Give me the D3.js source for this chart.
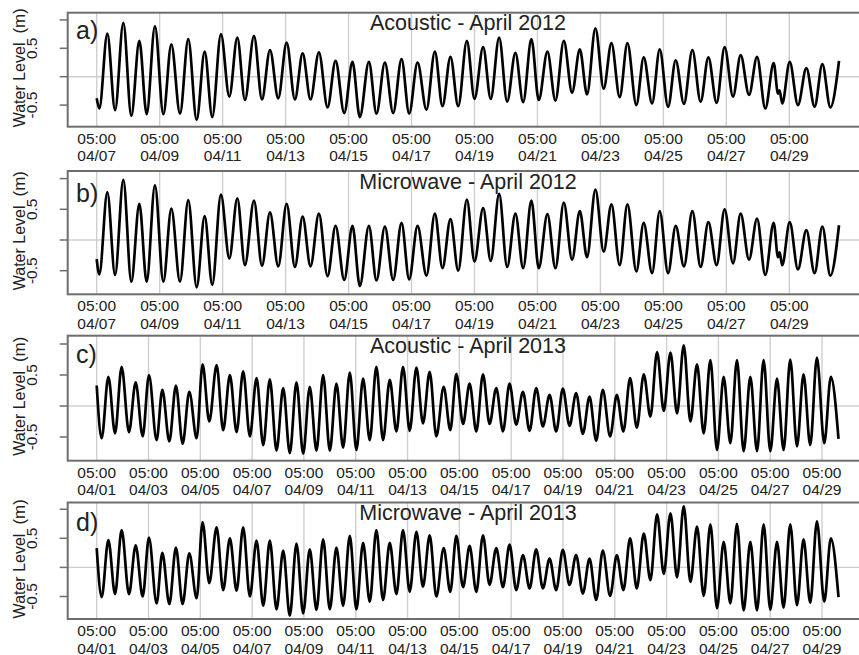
<!DOCTYPE html>
<html>
<head>
<meta charset="utf-8">
<script src="https://cdn.jsdelivr.net/npm/d3@7"></script>
<style>
  html, body { margin: 0; padding: 0; background: #fff; }
  svg { display: block; font-family: "Liberation Sans", Arial, sans-serif; }
</style>
</head>
<body>
<svg id="chart" width="859" height="655"></svg>
<script>
// Turning points of the water-level record (hours after 05:00 on the first day, metres)
const hours2012 = [0, 2.0, 8.1, 14.0, 20.3, 26.4, 32.5, 38.1, 44.4, 50.8,
  56.9, 63.5, 69.8, 76.2, 82.3, 88.1, 94.7, 101.1, 107.2, 113.0,
  119.9, 126.0, 132.1, 138.4, 144.8, 151.1, 157.0, 163.0, 169.4, 176.0,
  182.1, 188.7, 195.0, 200.6, 207.5, 213.3, 219.7, 226.0, 232.4, 238.2,
  244.6, 251.4, 257.8, 263.6, 269.7, 275.6, 282.2, 288.0, 294.6, 300.4,
  306.8, 312.9, 319.2, 325.1, 331.4, 337.0, 343.6, 349.7, 356.1, 362.4,
  368.3, 373.8, 380.2, 386.5, 392.4, 398.7, 404.6, 411.4, 417.0, 423.4,
  429.2, 435.6, 441.4, 447.7, 454.1, 460.4, 466.3, 472.6, 478.7, 485.1,
  490.9, 497.3, 503.4, 509.7, 516.1, 519.4, 520.6, 522.6, 528.3, 534.6,
  541.0, 547.3, 553.2, 559.3, 565.9];

const acoustic2012 = [-0.38, -0.56, 0.76, -0.59, 0.95, -0.69, 0.63, -0.66, 0.89, -0.66,
  0.57, -0.65, 0.66, -0.76, 0.44, -0.71, 0.75, -0.35, 0.69, -0.41,
  0.72, -0.40, 0.47, -0.38, 0.60, -0.40, 0.41, -0.40, 0.43, -0.54,
  0.28, -0.64, 0.26, -0.71, 0.26, -0.65, 0.25, -0.64, 0.31, -0.65,
  0.25, -0.58, 0.44, -0.52, 0.35, -0.52, 0.63, -0.39, 0.52, -0.39,
  0.69, -0.44, 0.42, -0.45, 0.66, -0.41, 0.44, -0.42, 0.63, -0.28,
  0.48, -0.31, 0.85, -0.21, 0.59, -0.36, 0.59, -0.50, 0.34, -0.47,
  0.48, -0.53, 0.29, -0.48, 0.47, -0.44, 0.34, -0.46, 0.52, -0.35,
  0.38, -0.32, 0.35, -0.56, 0.24, -0.30, -0.24, -0.47, 0.26, -0.50,
  0.15, -0.53, 0.22, -0.54, 0.28];

const microwave2012 = [-0.31, -0.56, 0.78, -0.57, 0.98, -0.68, 0.59, -0.68, 0.89, -0.68,
  0.51, -0.68, 0.65, -0.77, 0.39, -0.73, 0.74, -0.30, 0.68, -0.41,
  0.64, -0.42, 0.45, -0.43, 0.59, -0.44, 0.38, -0.43, 0.43, -0.59,
  0.23, -0.65, 0.23, -0.75, 0.23, -0.66, 0.22, -0.65, 0.28, -0.64,
  0.23, -0.58, 0.43, -0.46, 0.34, -0.50, 0.66, -0.35, 0.52, -0.34,
  0.75, -0.44, 0.43, -0.46, 0.64, -0.46, 0.42, -0.46, 0.61, -0.32,
  0.47, -0.28, 0.82, -0.19, 0.58, -0.41, 0.58, -0.51, 0.28, -0.54,
  0.47, -0.54, 0.23, -0.43, 0.47, -0.44, 0.29, -0.41, 0.50, -0.38,
  0.43, -0.32, 0.35, -0.57, 0.28, -0.28, -0.20, -0.41, 0.29, -0.48,
  0.16, -0.54, 0.22, -0.58, 0.24];

const hours2013 = [0, 4.6, 10.8, 17.0, 23.1, 29.9, 36.1, 42.6, 48.4, 55.5,
  60.8, 67.3, 73.4, 79.6, 85.8, 92.6, 98.1, 104.3, 111.1, 117.2,
  123.4, 129.6, 135.7, 141.9, 148.1, 154.3, 160.4, 166.6, 172.8, 178.9,
  185.1, 191.3, 197.4, 203.6, 209.8, 216.0, 222.1, 228.3, 234.5, 240.6,
  246.8, 253.0, 259.1, 265.3, 271.5, 277.7, 283.8, 290.0, 296.2, 302.3,
  308.5, 314.7, 321.5, 327.6, 333.2, 339.4, 345.5, 351.7, 357.9, 364.0,
  370.2, 376.4, 382.5, 388.7, 394.9, 401.1, 407.2, 413.4, 419.6, 425.7,
  431.9, 438.1, 444.2, 450.4, 456.6, 462.8, 468.9, 475.7, 481.9, 488.0,
  494.2, 500.4, 506.9, 513.0, 519.2, 525.4, 531.6, 537.7, 543.9, 550.1,
  556.2, 562.4, 568.6, 574.7, 580.9, 587.1, 593.2, 599.4, 605.6, 611.8,
  617.9, 624.1, 630.3, 636.4, 642.6, 648.8, 654.9, 661.1, 667.3, 674.1,
  680.2, 687.3];

const acoustic2013 = [0.33, -0.52, 0.47, -0.44, 0.63, -0.42, 0.38, -0.49, 0.50, -0.55,
  0.26, -0.57, 0.33, -0.61, 0.23, -0.52, 0.67, -0.25, 0.66, -0.39,
  0.50, -0.42, 0.56, -0.49, 0.45, -0.63, 0.43, -0.72, 0.29, -0.76,
  0.38, -0.77, 0.31, -0.72, 0.50, -0.72, 0.36, -0.67, 0.54, -0.71,
  0.44, -0.55, 0.63, -0.55, 0.42, -0.41, 0.63, -0.40, 0.62, -0.28,
  0.55, -0.49, 0.31, -0.39, 0.52, -0.29, 0.36, -0.41, 0.51, -0.29,
  0.29, -0.41, 0.36, -0.30, 0.23, -0.40, 0.29, -0.33, 0.18, -0.41,
  0.28, -0.32, 0.21, -0.45, 0.15, -0.56, 0.26, -0.49, 0.18, -0.41,
  0.45, -0.35, 0.51, -0.17, 0.87, -0.08, 0.86, -0.12, 0.98, -0.25,
  0.67, -0.44, 0.74, -0.71, 0.47, -0.60, 0.74, -0.73, 0.47, -0.73,
  0.74, -0.73, 0.44, -0.71, 0.75, -0.65, 0.51, -0.63, 0.78, -0.60,
  0.47, -0.53];

const microwave2013 = [0.33, -0.51, 0.47, -0.46, 0.64, -0.46, 0.38, -0.50, 0.51, -0.62,
  0.25, -0.63, 0.34, -0.63, 0.24, -0.53, 0.78, -0.27, 0.69, -0.39,
  0.50, -0.40, 0.69, -0.50, 0.46, -0.66, 0.46, -0.72, 0.29, -0.83,
  0.41, -0.79, 0.31, -0.73, 0.48, -0.72, 0.34, -0.66, 0.54, -0.72,
  0.42, -0.59, 0.64, -0.56, 0.42, -0.46, 0.64, -0.42, 0.61, -0.33,
  0.55, -0.50, 0.33, -0.42, 0.54, -0.34, 0.37, -0.42, 0.55, -0.30,
  0.33, -0.34, 0.39, -0.39, 0.21, -0.36, 0.31, -0.36, 0.15, -0.39,
  0.30, -0.30, 0.21, -0.45, 0.15, -0.56, 0.29, -0.49, 0.21, -0.39,
  0.50, -0.36, 0.58, -0.22, 0.91, -0.11, 0.93, -0.17, 1.05, -0.25,
  0.70, -0.49, 0.74, -0.70, 0.44, -0.62, 0.75, -0.74, 0.44, -0.74,
  0.74, -0.73, 0.44, -0.69, 0.74, -0.65, 0.48, -0.61, 0.79, -0.59,
  0.50, -0.51];

const panelLetters = ["a)", "b)", "c)", "d)"];
const panelTitles = ["Acoustic - April 2012", "Microwave - April 2012",
                     "Acoustic - April 2013", "Microwave - April 2013"];
const yTicks = [-0.5, 0, 0.5, 1];
const yTickLabels = [-0.5, 0.5];
const yAxisTitle = "Water Level";
const yAxisUnit = "(m)";
const tickEveryDays = 2;

const start2012 = Date.UTC(2012, 3, 7, 5);
const start2013 = Date.UTC(2013, 3, 1, 5);

// Panel layout
const panels = [
  { hours: hours2012, level: acoustic2012,  start: start2012, days: 22, xEnd: 789.3,
    top: 12.7,  bottom: 126.7, yRange: [105.1, 48.3], letterDy: 26.5 },
  { hours: hours2012, level: microwave2012, start: start2012, days: 22, xEnd: 789.3,
    top: 171,   bottom: 294.3, yRange: [270.7, 209.3], letterDy: 31 },
  { hours: hours2013, level: acoustic2013,  start: start2013, days: 28, xEnd: 822,
    top: 335.7, bottom: 460.7, yRange: [437.0, 375.0], letterDy: 27 },
  { hours: hours2013, level: microwave2013, start: start2013, days: 28, xEnd: 822,
    top: 502.5, bottom: 619,   yRange: [596.5, 538.3], letterDy: 28.5 }
];

const boxLeft = 67.7, boxRight = 872, x0 = 96.7;
const dayMs = 864e5, hourMs = 36e5;
const fmtTime = d3.utcFormat("%H:%M");
const fmtDate = d3.utcFormat("%m/%d");

const svg = d3.select("#chart");

panels.forEach((p, i) => {
  const x = d3.scaleUtc()
    .domain([new Date(p.start), new Date(p.start + p.days * dayMs)])
    .range([x0, p.xEnd]);
  const y = d3.scaleLinear().domain([-0.5, 0.5]).range(p.yRange);

  const g = svg.append("g");
  const clipId = "clip" + i;
  g.append("clipPath").attr("id", clipId)
    .append("rect")
    .attr("x", boxLeft).attr("y", p.top)
    .attr("width", boxRight - boxLeft).attr("height", p.bottom - p.top);

  const tickDates = d3.range(0, p.days + 1, tickEveryDays)
    .map(d => new Date(p.start + d * dayMs));

  // vertical grid lines at each date tick
  g.append("g").selectAll("line").data(tickDates).join("line")
    .attr("x1", d => x(d)).attr("x2", d => x(d))
    .attr("y1", p.top).attr("y2", p.bottom)
    .attr("stroke", "#cfcfcf").attr("stroke-width", 1.4);

  // zero reference line
  g.append("line")
    .attr("x1", boxLeft).attr("x2", boxRight)
    .attr("y1", y(0)).attr("y2", y(0))
    .attr("stroke", "#cfcfcf").attr("stroke-width", 1.4);

  // water level series
  const pts = p.hours.map((h, k) => ({ t: new Date(p.start + h * hourMs), v: p.level[k] }));
  const line = d3.line()
    .x(d => x(d.t)).y(d => y(d.v))
    .curve(d3.curveMonotoneX);
  g.append("path")
    .datum(pts)
    .attr("clip-path", `url(#${clipId})`)
    .attr("d", line)
    .attr("fill", "none")
    .attr("stroke", "#000")
    .attr("stroke-width", 2.7)
    .attr("stroke-linejoin", "round");

  // frame
  g.append("rect")
    .attr("x", boxLeft).attr("y", p.top)
    .attr("width", boxRight - boxLeft).attr("height", p.bottom - p.top)
    .attr("fill", "none").attr("stroke", "#6e6e6e").attr("stroke-width", 2);

  // y axis ticks
  g.append("g").selectAll("line").data(yTicks).join("line")
    .attr("x1", boxLeft - 8).attr("x2", boxLeft)
    .attr("y1", d => y(d)).attr("y2", d => y(d))
    .attr("stroke", "#6e6e6e").attr("stroke-width", 1.5);

  g.append("g").selectAll("text").data(yTickLabels).join("text")
    .attr("transform", d => `translate(36.5,${y(d)}) rotate(-90)`)
    .attr("text-anchor", "middle")
    .attr("font-size", 15.5)
    .attr("fill", "#222")
    .text(d => String(d));

  const yt = g.append("text")
    .attr("transform", `translate(25,${(p.top + p.bottom) / 2 - 2}) rotate(-90)`)
    .attr("text-anchor", "middle")
    .attr("font-size", 16)
    .attr("fill", "#222");
  yt.append("tspan").text(yAxisTitle);
  yt.append("tspan").attr("dx", 9).attr("font-size", 17).text(yAxisUnit);

  // x tick labels: time on the first line, date on the second
  const xl = g.append("g").selectAll("text").data(tickDates).join("text")
    .attr("text-anchor", "middle")
    .attr("font-size", 15.5)
    .attr("fill", "#222");
  xl.append("tspan").attr("x", d => x(d)).attr("y", p.bottom + 17).text(d => fmtTime(d));
  xl.append("tspan").attr("x", d => x(d)).attr("y", p.bottom + 34.5).text(d => fmtDate(d));

  // panel letter and title
  g.append("text")
    .attr("x", 76).attr("y", p.top + p.letterDy)
    .attr("font-size", 25)
    .attr("fill", "#222")
    .text(panelLetters[i]);

  g.append("text")
    .attr("x", 468).attr("y", p.top + 17.5)
    .attr("text-anchor", "middle")
    .attr("font-size", 21.5)
    .attr("fill", "#222")
    .text(panelTitles[i]);
});
</script>
</body>
</html>
